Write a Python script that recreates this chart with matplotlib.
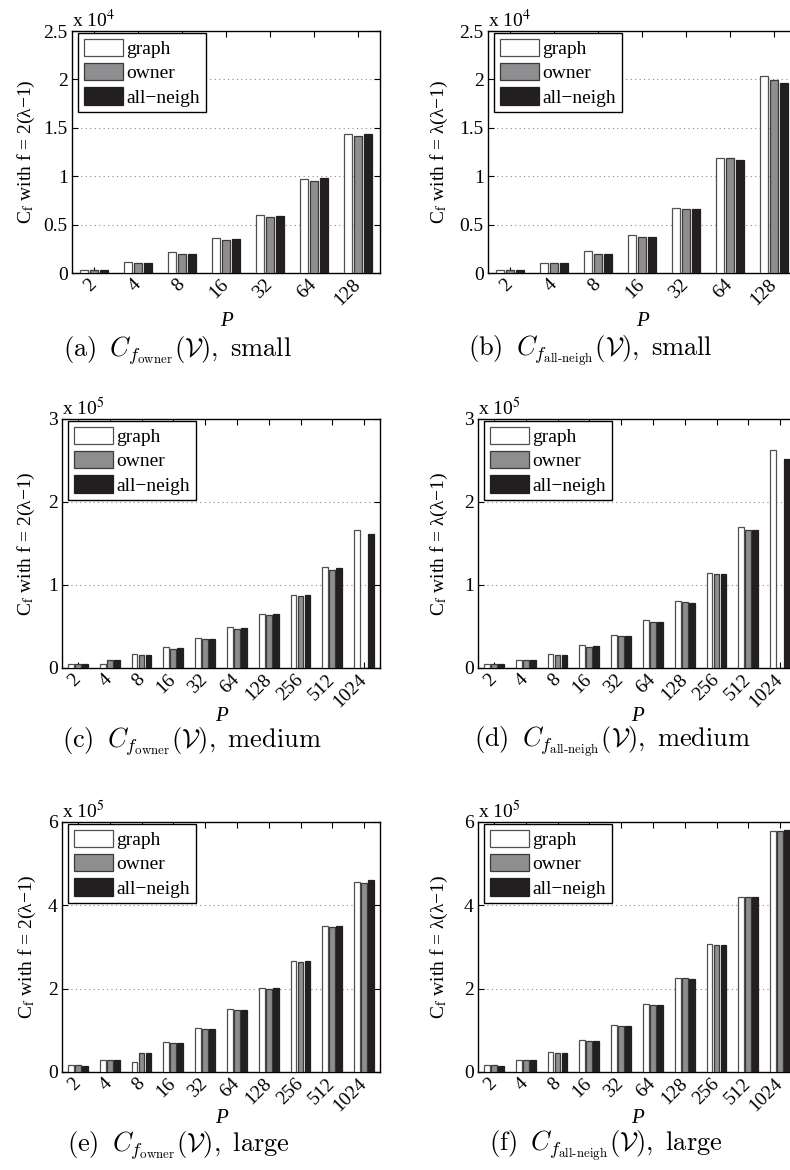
# Grouped bar charts of C_f for the three partitioners (graph / owner / all-neigh)
import numpy as np
import matplotlib
matplotlib.use("Agg")
import matplotlib.pyplot as plt
from matplotlib.transforms import ScaledTranslation

plt.rcParams['font.family'] = ['Liberation Serif', 'DejaVu Serif']
plt.rcParams['mathtext.fontset'] = 'stix'

# processor counts
P_small = ['2', '4', '8', '16', '32', '64', '128']
P_big = ['2', '4', '8', '16', '32', '64', '128', '256', '512', '1024']

# (a) small, f = 2(lambda-1), units of 1e4
a_graph = [0.03, 0.11, 0.22, 0.36, 0.60, 0.97, 1.44]
a_owner = [0.03, 0.10, 0.20, 0.34, 0.58, 0.955, 1.42]
a_neigh = [0.03, 0.10, 0.20, 0.35, 0.59, 0.98, 1.44]

# (b) small, f = lambda(lambda-1), units of 1e4
b_graph = [0.03, 0.10, 0.225, 0.39, 0.675, 1.19, 2.03]
b_owner = [0.03, 0.10, 0.20, 0.372, 0.661, 1.185, 1.995]
b_neigh = [0.03, 0.10, 0.20, 0.372, 0.658, 1.165, 1.96]

# (c) medium, f = 2(lambda-1), units of 1e5
c_graph = [0.05, 0.05, 0.165, 0.258, 0.358, 0.495, 0.656, 0.878, 1.216, 1.66]
c_owner = [0.045, 0.093, 0.157, 0.234, 0.346, 0.475, 0.644, 0.866, 1.18, 0.0]
c_neigh = [0.045, 0.097, 0.157, 0.242, 0.346, 0.483, 0.648, 0.882, 1.20, 1.62]

# (d) medium, f = lambda(lambda-1), units of 1e5
d_graph = [0.052, 0.10, 0.173, 0.278, 0.403, 0.576, 0.805, 1.14, 1.704, 2.63]
d_owner = [0.044, 0.097, 0.161, 0.25, 0.387, 0.552, 0.793, 1.132, 1.667, 0.0]
d_neigh = [0.048, 0.097, 0.161, 0.262, 0.387, 0.556, 0.789, 1.132, 1.667, 2.517]

# (e) large, f = 2(lambda-1), units of 1e5
e_graph = [0.16, 0.288, 0.24, 0.728, 1.064, 1.512, 2.016, 2.664, 3.504, 4.56]
e_owner = [0.16, 0.28, 0.456, 0.704, 1.04, 1.48, 2.0, 2.64, 3.488, 4.544]
e_neigh = [0.152, 0.28, 0.456, 0.704, 1.04, 1.48, 2.008, 2.664, 3.512, 4.616]

# (f) large, f = lambda(lambda-1), units of 1e5
f_graph = [0.16, 0.296, 0.48, 0.76, 1.128, 1.632, 2.256, 3.08, 4.2, 5.776]
f_owner = [0.16, 0.288, 0.464, 0.736, 1.104, 1.608, 2.248, 3.056, 4.208, 5.792]
f_neigh = [0.15, 0.288, 0.464, 0.736, 1.104, 1.608, 2.232, 3.056, 4.2, 5.808]

yl_2 = 'C$_\\mathrm{f}$ with f = 2(λ−1)'
yl_l = 'C$_\\mathrm{f}$ with f = λ(λ−1)'

W, H = 790.0, 1170.0
fig = plt.figure(figsize=(W / 100, H / 100), dpi=100)


def px_axes(left, top, width, height):
    return fig.add_axes([left / W, 1 - (top + height) / H, width / W, height / H])


def draw(ax, labels, graph, owner, neigh, ymax, yticks, ytl, expo, ylabel, ylab_off, p_off=39.0):
    x = np.arange(1, len(labels) + 1)
    ax.bar(x - 0.22, graph, 0.18, color='white', edgecolor='#505050', lw=0.9, label='graph', zorder=3)
    ax.bar(x, owner, 0.18, color='#8e8e90', edgecolor='#3a3a3a', lw=0.9, label='owner', zorder=3)
    ax.bar(x + 0.22, neigh, 0.18, color='#231f20', edgecolor='#231f20', lw=0.9, label='all−neigh', zorder=3)
    ax.set_xlim(0.5, len(labels) + 0.5)
    ax.set_ylim(0, ymax)
    ax.set_yticks(yticks)
    ax.set_yticklabels(ytl, fontsize=14)
    ax.set_xticks(x)
    ax.set_xticklabels(labels, fontsize=14, rotation=45, ha='right', va='center', rotation_mode='anchor')
    # pull the rotated labels a bit left so their ends sit under the groups
    shift = ScaledTranslation(-4 / 72, 0, fig.dpi_scale_trans)
    for lab in ax.get_xticklabels():
        lab.set_transform(lab.get_transform() + shift)
    ax.tick_params(direction='in', length=4, width=0.8, top=True, right=True)
    ax.tick_params(axis='x', pad=6.5)
    ax.tick_params(axis='y', pad=3)
    for y in yticks[1:-1]:
        ax.axhline(y, color='#8a8a8a', lw=0.8, ls=(0, (1, 3)), zorder=1)
    for s in ax.spines.values():
        s.set_linewidth(1.0)
    ax.set_xlabel('P', fontsize=15, fontstyle='italic')
    bb = ax.get_position()
    axw, axh = bb.width * W, bb.height * H
    ax.xaxis.set_label_coords(0.5, -p_off / axh)
    ax.set_ylabel(ylabel, fontsize=14)
    ax.yaxis.set_label_coords(-ylab_off / axw, 0.5)
    ax.text(0.0, 1.0, 'x 10$^{%d}$' % expo, transform=ax.transAxes, fontsize=14,
            ha='left', va='bottom')
    leg = ax.legend(loc='upper left', bbox_to_anchor=(6 / axw, 1 - 2 / axh), fontsize=14,
                    fancybox=False, framealpha=1, edgecolor='black',
                    handlelength=2.0, handleheight=1.0, labelspacing=0.25,
                    handletextpad=0.2, borderpad=0.3, borderaxespad=0)
    leg.get_frame().set_linewidth(1.0)
    leg.set_zorder(5)


ax_a = px_axes(72, 31, 308, 242)
ax_b = px_axes(488, 31, 308, 242)
ax_c = px_axes(62, 419, 318, 249)
ax_d = px_axes(478, 419, 318, 249)
ax_e = px_axes(62, 822, 318, 250)
ax_f = px_axes(478, 822, 318, 250)

t_small = [0, 0.5, 1, 1.5, 2, 2.5]
tl_small = ['0', '0.5', '1', '1.5', '2', '2.5']

draw(ax_a, P_small, a_graph, a_owner, a_neigh, 2.5, t_small, tl_small, 4, yl_2, 35)
draw(ax_b, P_small, b_graph, b_owner, b_neigh, 2.5, t_small, tl_small, 4, yl_l, 38)
draw(ax_c, P_big, c_graph, c_owner, c_neigh, 3, [0, 1, 2, 3], ['0', '1', '2', '3'], 5, yl_2, 25)
draw(ax_d, P_big, d_graph, d_owner, d_neigh, 3, [0, 1, 2, 3], ['0', '1', '2', '3'], 5, yl_l, 28)
draw(ax_e, P_big, e_graph, e_owner, e_neigh, 6, [0, 2, 4, 6], ['0', '2', '4', '6'], 5, yl_2, 24, 37.0)
draw(ax_f, P_big, f_graph, f_owner, f_neigh, 6, [0, 2, 4, 6], ['0', '2', '4', '6'], 5, yl_l, 28, 37.0)

caps = [
    (178, 351, r'$\mathrm{(a)}\;\; C_{f_{\mathrm{owner}}}(\mathcal{V}),\ \mathrm{small}$'),
    (590, 351, r'$\mathrm{(b)}\;\; C_{f_{\mathrm{all\text{-}neigh}}}(\mathcal{V}),\ \mathrm{small}$'),
    (192, 742, r'$\mathrm{(c)}\;\; C_{f_{\mathrm{owner}}}(\mathcal{V}),\ \mathrm{medium}$'),
    (612, 742, r'$\mathrm{(d)}\;\; C_{f_{\mathrm{all\text{-}neigh}}}(\mathcal{V}),\ \mathrm{medium}$'),
    (178, 1146, r'$\mathrm{(e)}\;\; C_{f_{\mathrm{owner}}}(\mathcal{V}),\ \mathrm{large}$'),
    (606, 1146, r'$\mathrm{(f)}\;\; C_{f_{\mathrm{all\text{-}neigh}}}(\mathcal{V}),\ \mathrm{large}$'),
]
for cx, cy, s in caps:
    fig.text(cx / W, 1 - cy / H, s, fontsize=19, ha='center', va='center', math_fontfamily='cm')

fig.savefig('out.png', dpi=100)
